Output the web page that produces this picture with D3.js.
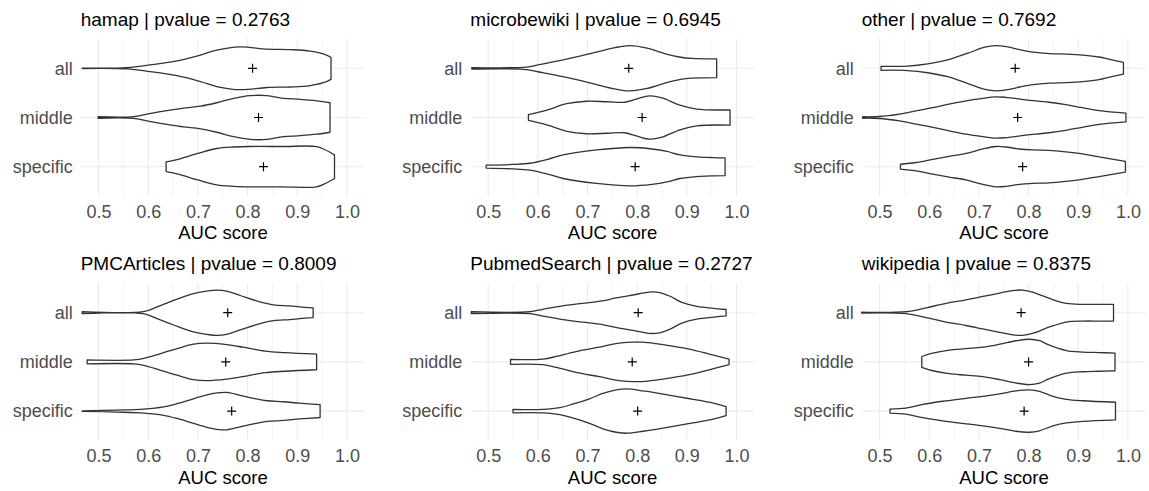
<!DOCTYPE html>
<html lang="en">
<head>
    <meta charset="UTF-8">
    <title>AUC score violins</title>
    <script src="https://cdnjs.cloudflare.com/ajax/libs/d3/7.8.5/d3.min.js"></script>
    <style>
        body { margin: 0; background: #fff; font-family: "Liberation Sans", Arial, sans-serif; }
        svg { display: block; }
    </style>
</head>
<body>
<svg width="1149" height="491"></svg>

<script>
    // facet names and their p-values
    const sources = ["hamap", "microbewiki", "other", "PMCArticles", "PubmedSearch", "wikipedia"];
    const pvalues = ["0.2763", "0.6945", "0.7692", "0.8009", "0.2727", "0.8375"];
    const groups = ["all", "middle", "specific"];
    const xTicks = [0.5, 0.6, 0.7, 0.8, 0.9, 1.0];
    const xMinor = [0.55, 0.65, 0.75, 0.85, 0.95];

    // mean AUC per group (all, middle, specific), one row per source
    const means = [
        [0.810, 0.822, 0.832],
        [0.783, 0.810, 0.796],
        [0.773, 0.778, 0.788],
        [0.760, 0.756, 0.768],
        [0.802, 0.790, 0.801],
        [0.785, 0.800, 0.791]
    ];

    // violin outlines: [AUC, half width as a share of the category step]
    const hamap = {
        all: [[0.467, 0.005], [0.557, 0.012], [0.604, 0.068], [0.658, 0.15], [0.705, 0.27], [0.738, 0.37], [0.785, 0.435], [0.839, 0.39], [0.886, 0.38], [0.926, 0.35], [0.959, 0.27], [0.968, 0.22]],
        middle: [[0.499, 0.015], [0.571, 0.018], [0.605, 0.085], [0.638, 0.14], [0.671, 0.19], [0.705, 0.23], [0.738, 0.30], [0.772, 0.39], [0.805, 0.445], [0.839, 0.445], [0.872, 0.39], [0.906, 0.37], [0.939, 0.34], [0.966, 0.30]],
        specific: [[0.636, 0.10], [0.66, 0.15], [0.70, 0.27], [0.738, 0.37], [0.772, 0.40], [0.805, 0.41], [0.87, 0.41], [0.939, 0.41], [0.955, 0.35], [0.975, 0.24]]
    };
    const microbewiki = {
        all: [[0.467, 0.015], [0.577, 0.025], [0.60, 0.07], [0.651, 0.17], [0.718, 0.33], [0.755, 0.42], [0.785, 0.46], [0.82, 0.41], [0.859, 0.29], [0.885, 0.23], [0.91, 0.20], [0.96, 0.19]],
        middle: [[0.581, 0.06], [0.618, 0.15], [0.658, 0.28], [0.698, 0.33], [0.74, 0.32], [0.775, 0.31], [0.80, 0.38], [0.825, 0.44], [0.85, 0.40], [0.886, 0.25], [0.92, 0.17], [0.987, 0.155]],
        specific: [[0.496, 0.03], [0.55, 0.045], [0.584, 0.07], [0.62, 0.15], [0.651, 0.24], [0.718, 0.34], [0.785, 0.39], [0.83, 0.36], [0.86, 0.31], [0.886, 0.24], [0.92, 0.20], [0.952, 0.185], [0.977, 0.18]]
    };
    const other = {
        all: [[0.503, 0.04], [0.556, 0.045], [0.597, 0.09], [0.637, 0.17], [0.678, 0.31], [0.712, 0.43], [0.734, 0.46], [0.755, 0.44], [0.782, 0.38], [0.809, 0.33], [0.842, 0.30], [0.876, 0.29], [0.909, 0.27], [0.942, 0.23], [0.963, 0.18], [0.991, 0.12]],
        middle: [[0.466, 0.015], [0.50, 0.02], [0.54, 0.07], [0.573, 0.135], [0.607, 0.20], [0.64, 0.27], [0.674, 0.34], [0.708, 0.39], [0.734, 0.42], [0.754, 0.41], [0.794, 0.36], [0.841, 0.31], [0.875, 0.26], [0.908, 0.20], [0.942, 0.14], [0.996, 0.09]],
        specific: [[0.542, 0.05], [0.573, 0.085], [0.607, 0.15], [0.64, 0.21], [0.674, 0.27], [0.708, 0.36], [0.734, 0.41], [0.754, 0.40], [0.781, 0.36], [0.808, 0.34], [0.841, 0.33], [0.875, 0.30], [0.908, 0.26], [0.942, 0.20], [0.995, 0.11]]
    };
    const pmcArticles = {
        all: [[0.467, 0.02], [0.59, 0.02], [0.618, 0.12], [0.651, 0.25], [0.691, 0.39], [0.718, 0.44], [0.738, 0.46], [0.758, 0.44], [0.785, 0.35], [0.825, 0.22], [0.852, 0.16], [0.885, 0.14], [0.905, 0.12], [0.932, 0.10]],
        middle: [[0.477, 0.04], [0.571, 0.04], [0.591, 0.07], [0.625, 0.17], [0.658, 0.27], [0.691, 0.36], [0.718, 0.38], [0.758, 0.35], [0.79, 0.30], [0.835, 0.22], [0.875, 0.19], [0.939, 0.16]],
        specific: [[0.467, 0.005], [0.537, 0.02], [0.591, 0.04], [0.631, 0.085], [0.658, 0.15], [0.691, 0.25], [0.718, 0.33], [0.738, 0.37], [0.758, 0.38], [0.785, 0.32], [0.812, 0.26], [0.839, 0.21], [0.872, 0.19], [0.905, 0.16], [0.946, 0.13]]
    };
    const pubmedSearch = {
        all: [[0.466, 0.02], [0.583, 0.02], [0.61, 0.07], [0.65, 0.14], [0.69, 0.19], [0.73, 0.24], [0.757, 0.30], [0.797, 0.37], [0.824, 0.42], [0.845, 0.41], [0.865, 0.34], [0.89, 0.21], [0.92, 0.13], [0.958, 0.085], [0.979, 0.065]],
        middle: [[0.545, 0.05], [0.61, 0.055], [0.637, 0.11], [0.664, 0.18], [0.69, 0.24], [0.724, 0.30], [0.757, 0.37], [0.79, 0.40], [0.81, 0.40], [0.838, 0.37], [0.871, 0.32], [0.905, 0.26], [0.945, 0.16], [0.985, 0.055]],
        specific: [[0.55, 0.035], [0.61, 0.035], [0.644, 0.07], [0.67, 0.14], [0.704, 0.25], [0.731, 0.36], [0.758, 0.43], [0.78, 0.45], [0.812, 0.41], [0.838, 0.37], [0.878, 0.30], [0.912, 0.24], [0.945, 0.18], [0.979, 0.09]]
    };
    const wikipedia = {
        all: [[0.464, 0.01], [0.553, 0.02], [0.594, 0.10], [0.634, 0.19], [0.674, 0.26], [0.708, 0.33], [0.742, 0.40], [0.768, 0.45], [0.788, 0.46], [0.808, 0.42], [0.842, 0.29], [0.876, 0.19], [0.91, 0.17], [0.94, 0.17], [0.971, 0.17]],
        middle: [[0.585, 0.11], [0.607, 0.18], [0.64, 0.24], [0.674, 0.27], [0.708, 0.30], [0.742, 0.36], [0.775, 0.43], [0.802, 0.46], [0.822, 0.43], [0.842, 0.34], [0.876, 0.23], [0.909, 0.20], [0.942, 0.19], [0.974, 0.18]],
        specific: [[0.521, 0.04], [0.553, 0.06], [0.587, 0.135], [0.627, 0.20], [0.674, 0.26], [0.708, 0.30], [0.742, 0.35], [0.775, 0.41], [0.802, 0.43], [0.822, 0.40], [0.849, 0.30], [0.876, 0.24], [0.909, 0.21], [0.975, 0.18]]
    };
    const violins = [hamap, microbewiki, other, pmcArticles, pubmedSearch, wikipedia];

    // layout
    const colLeft = [81.7, 471.3, 862.7];
    const rowTop = [38.8, 283.2];
    const panelW = 282.6, panelH = 157.4;

    const svg = d3.select("svg");
    const x = d3.scaleLinear().domain([0.466, 1.035]).range([0, panelW]);
    const y = d3.scalePoint().domain(groups).range([0, panelH]).padding(0.6);
    const w = d3.scaleLinear().domain([0, 1]).range([0, y.step()]);

    sources.forEach((src, i) => {
        const g = svg.append("g")
            .attr("transform", `translate(${colLeft[i % 3]},${rowTop[Math.floor(i / 3)]})`);

        // grid
        g.selectAll(".minor").data(xMinor).enter().append("line")
            .attr("x1", d => x(d)).attr("x2", d => x(d))
            .attr("y1", 0).attr("y2", panelH)
            .attr("stroke", "#ebebeb").attr("stroke-width", 0.6);
        g.selectAll(".major").data(xTicks).enter().append("line")
            .attr("x1", d => x(d)).attr("x2", d => x(d))
            .attr("y1", 0).attr("y2", panelH)
            .attr("stroke", "#ebebeb").attr("stroke-width", 1.1);
        g.selectAll(".hgrid").data(groups).enter().append("line")
            .attr("x1", 0).attr("x2", panelW)
            .attr("y1", d => y(d)).attr("y2", d => y(d))
            .attr("stroke", "#ebebeb").attr("stroke-width", 1.1);

        // violins
        groups.forEach(grp => {
            const cy = y(grp);
            const area = d3.area()
                .curve(d3.curveCatmullRom.alpha(0.5))
                .x(d => x(d[0]))
                .y0(d => cy - w(d[1]))
                .y1(d => cy + w(d[1]));
            g.append("path")
                .attr("d", area(violins[i][grp]))
                .attr("fill", "#fff")
                .attr("stroke", "#333333")
                .attr("stroke-width", 1.3)
                .attr("stroke-linejoin", "round");
        });

        // means
        g.selectAll(".mean").data(means[i]).enter().append("path")
            .attr("d", (d, j) => `M${x(d) - 4.5},${y(groups[j])}h9M${x(d)},${y(groups[j]) - 4.5}v9`)
            .attr("stroke", "#000").attr("stroke-width", 1.2);

        // axes
        const xAxis = g.append("g")
            .attr("transform", `translate(0,${panelH})`)
            .call(d3.axisBottom(x).tickValues(xTicks).tickFormat(d3.format(".1f")).tickSize(0).tickPadding(9));
        const yAxis = g.append("g")
            .call(d3.axisLeft(y).tickSize(0).tickPadding(9));
        [xAxis, yAxis].forEach(a => {
            a.select(".domain").remove();
            a.selectAll("text")
                .attr("fill", "#4d4d4d")
                .style("font-size", "18px")
                .style("font-family", "'Liberation Sans', Arial, sans-serif");
        });

        g.append("text")
            .attr("x", panelW / 2).attr("y", panelH + 43.3)
            .attr("text-anchor", "middle")
            .style("font-size", "18.5px")
            .text("AUC score");

        g.append("text")
            .attr("x", -1).attr("y", -13)
            .style("font-size", "19px")
            .text(`${src} | pvalue = ${pvalues[i]}`);
    });
</script>
</body>
</html>
